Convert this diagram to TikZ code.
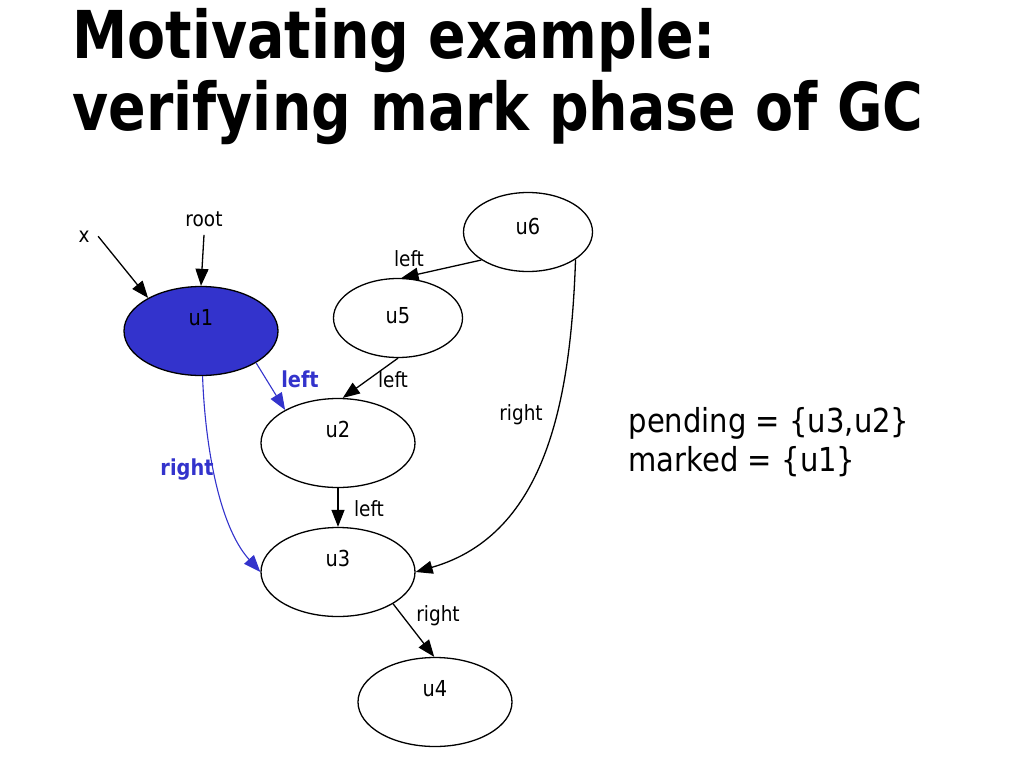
\documentclass[tikz,border=0pt]{standalone}
\usepackage{fontspec}
\setmainfont{DejaVu Sans}[FakeStretch=0.88]
\newfontfamily\titlefont{DejaVu Sans}[FakeStretch=0.84]
\usetikzlibrary{shapes.geometric,arrows.meta}
\definecolor{markblue}{HTML}{3333CC}

\begin{document}
\begin{tikzpicture}[x=1pt,y=-1pt,line width=1.3pt,>={Triangle[length=17pt,width=13pt]},
  font=\fontsize{21}{25}\selectfont,
  cell/.style={draw,ellipse,inner sep=0pt,minimum width=154pt,minimum height=89pt,
    text height=15pt,text depth=27pt,font=\fontsize{22}{26}\selectfont},
  smallcell/.style={cell,minimum width=129pt,minimum height=79pt,text depth=11pt},
  lbl/.style={anchor=base,inner sep=0pt},
  srclbl/.style={anchor=base,inner sep=8pt},
  blbl/.style={lbl,markblue,font=\fontsize{22}{26}\selectfont\bfseries},
  bluearrow/.style={->,markblue,line width=1.1pt}]
\useasboundingbox (0,0) rectangle (1024,768);
\node[anchor=base west,inner sep=0pt,font=\titlefont\fontsize{66}{70}\selectfont\bfseries] (title1) at (72,59) {Motivating example:};
\node[anchor=base west,inner sep=0pt,font=\titlefont\fontsize{66}{70}\selectfont\bfseries] (title2) at (72,130) {verifying mark phase of GC};
% heap cells
\node[cell,fill=markblue] (u1) at (201,331) {u1};
\foreach \n/\p in {u2/{338,443},u3/{338,572},u4/{435,702}} \node[cell] (\n) at (\p) {\n};
\node[smallcell,text depth=5pt] (u5) at (398,318) {u5};
\node[smallcell] (u6) at (528,232) {u6};
% roots
\node[srclbl] (x) at (84,242) {x};
\node[srclbl] (root) at (204,226) {root};
\draw[->] (x.east) -- (u1.148);
\draw[->] (root.south) -- (u1.north);
% fields
\draw[->] (u6.-149) -- (u5.85);
\draw[->] (u5.south) -- (u2.84);
\draw[->] (u2.south) -- (u3.north);
\draw[->] (u6.-30) to[out=-92,in=16] (u3.east);
\draw[->] (u3.-30) -- (u4.91);
\draw[bluearrow] (u1.-30) -- (u2.148);
\draw[bluearrow] (u1.-88) to[out=-88,in=132,looseness=0.8] (u3.180);
\node[lbl] (l65) at (409,266) {left};
\node[lbl] (l52) at (393,387) {left};
\node[lbl] (l23) at (369,516) {left};
\node[lbl] (r63) at (521,420) {right};
\node[lbl] (r34) at (438,621) {right};
\node[blbl] (l12) at (300,387) {left};
\node[blbl] (r13) at (187,475) {right};
% mark state
\node[anchor=base west,inner sep=0pt,font=\fontsize{33}{39}\selectfont] (pending) at (628,432) {pending = \{u3,u2\}};
\node[anchor=base west,inner sep=0pt,font=\fontsize{33}{39}\selectfont] (marked) at (628,471) {marked = \{u1\}};
\end{tikzpicture}
\end{document}
